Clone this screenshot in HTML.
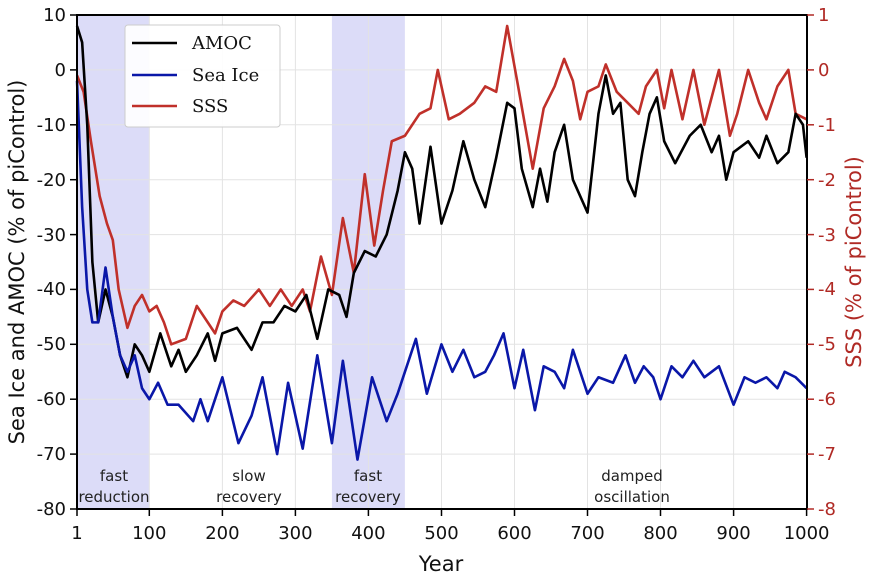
<!DOCTYPE html>
<html><head><meta charset="utf-8"><style>
html,body{margin:0;padding:0;background:#fff;}
svg{display:block;font-family:"DejaVu Sans","Liberation Sans",sans-serif;}
</style></head><body>
<svg width="871" height="576" viewBox="0 0 871 576" xmlns="http://www.w3.org/2000/svg">
<rect width="871" height="576" fill="#fff"/>
<rect x="77" y="15" width="72.3" height="494" fill="#dcdcf8"/>
<rect x="331.9" y="15" width="73" height="494" fill="#dcdcf8"/>
<g stroke="#e3e3e3" stroke-width="1">
<line x1="149.3" y1="15" x2="149.3" y2="509"/><line x1="222.4" y1="15" x2="222.4" y2="509"/><line x1="295.4" y1="15" x2="295.4" y2="509"/><line x1="368.4" y1="15" x2="368.4" y2="509"/><line x1="441.5" y1="15" x2="441.5" y2="509"/><line x1="514.5" y1="15" x2="514.5" y2="509"/><line x1="587.5" y1="15" x2="587.5" y2="509"/><line x1="660.5" y1="15" x2="660.5" y2="509"/><line x1="733.6" y1="15" x2="733.6" y2="509"/>
<line x1="77" y1="69.9" x2="807" y2="69.9"/><line x1="77" y1="124.8" x2="807" y2="124.8"/><line x1="77" y1="179.7" x2="807" y2="179.7"/><line x1="77" y1="234.6" x2="807" y2="234.6"/><line x1="77" y1="289.4" x2="807" y2="289.4"/><line x1="77" y1="344.3" x2="807" y2="344.3"/><line x1="77" y1="399.2" x2="807" y2="399.2"/><line x1="77" y1="454.1" x2="807" y2="454.1"/>
</g>
<g fill="none" stroke-width="2.6" stroke-linejoin="round">
<polyline transform="matrix(0.7303 0 0 -54.89 76.3 69.89)" vector-effect="non-scaling-stroke" stroke="#c0302a" points="1,-0.1 10,-0.4 20,-1.3 32,-2.3 42,-2.8 50,-3.1 58,-4.0 70,-4.7 80,-4.3 90,-4.1 100,-4.4 110,-4.3 120,-4.6 130,-5.0 150,-4.9 165,-4.3 180,-4.6 190,-4.8 200,-4.4 215,-4.2 230,-4.3 250,-4.0 265,-4.3 280,-4.0 295,-4.3 310,-4.0 320,-4.4 335,-3.4 350,-4.1 365,-2.7 380,-3.7 395,-1.9 408,-3.2 420,-2.2 432,-1.3 450,-1.2 470,-0.8 485,-0.7 495,0.0 510,-0.9 525,-0.8 545,-0.6 560,-0.3 575,-0.4 590,0.8 605,-0.3 625,-1.8 640,-0.7 655,-0.3 668,0.2 680,-0.2 690,-0.9 700,-0.4 715,-0.3 725,0.1 740,-0.4 755,-0.6 770,-0.8 780,-0.3 795,0.0 805,-0.7 815,0.0 830,-0.9 845,0.0 860,-1.0 880,0.0 895,-1.2 905,-0.8 920,0.0 935,-0.6 945,-0.9 960,-0.3 975,0.0 985,-0.8 1000,-0.9"/>
<polyline transform="matrix(0.7303 0 0 -5.489 76.3 69.89)" vector-effect="non-scaling-stroke" stroke="#000" points="1,8 8,5 15,-10 22,-35 30,-46 40,-40 50,-45 60,-52 70,-56 80,-50 90,-52 100,-55 115,-48 130,-54 140,-51 150,-55 165,-52 180,-48 190,-53 200,-48 220,-47 240,-51 255,-46 270,-46 285,-43 300,-44 315,-41 330,-49 345,-40 360,-41 370,-45 380,-37 395,-33 410,-34 425,-30 440,-22 450,-15 460,-18 470,-28 485,-14 500,-28 515,-22 530,-13 545,-20 560,-25 575,-16 590,-6 600,-7 610,-18 625,-25 635,-18 645,-24 655,-15 668,-10 680,-20 700,-26 715,-8 725,-1 735,-8 745,-6 755,-20 765,-23 775,-15 785,-8 795,-5 805,-13 820,-17 840,-12 855,-10 870,-15 880,-12 890,-20 900,-15 920,-13 935,-16 945,-12 960,-17 975,-15 985,-8 995,-10 1000,-16"/>
<polyline transform="matrix(0.7303 0 0 -5.489 76.3 69.89)" vector-effect="non-scaling-stroke" stroke="#0a17a8" points="1,-2 8,-25 15,-40 22,-46 30,-46 40,-36 50,-45 60,-52 70,-55 80,-52 90,-58 100,-60 112,-57 125,-61 140,-61 160,-64 170,-60 180,-64 200,-56 222,-68 240,-63 255,-56 275,-70 290,-57 310,-69 330,-52 350,-68 365,-53 385,-71 405,-56 425,-64 440,-59 455,-53 465,-49 480,-59 500,-50 515,-55 530,-51 545,-56 560,-55 572,-52 585,-48 600,-58 612,-51 628,-62 640,-54 655,-55 668,-58 680,-51 700,-59 715,-56 735,-57 752,-52 765,-57 777,-54 790,-56 800,-60 815,-54 830,-56 845,-53 860,-56 880,-54 900,-61 915,-56 930,-57 945,-56 960,-58 970,-55 985,-56 1000,-58"/>
</g>
<rect x="77" y="15" width="730" height="494" fill="none" stroke="#000" stroke-width="2"/>
<g stroke="#000" stroke-width="1.5">
<line x1="77" y1="509" x2="77" y2="516"/><line x1="149.3" y1="509" x2="149.3" y2="516"/><line x1="222.4" y1="509" x2="222.4" y2="516"/><line x1="295.4" y1="509" x2="295.4" y2="516"/><line x1="368.4" y1="509" x2="368.4" y2="516"/><line x1="441.5" y1="509" x2="441.5" y2="516"/><line x1="514.5" y1="509" x2="514.5" y2="516"/><line x1="587.5" y1="509" x2="587.5" y2="516"/><line x1="660.5" y1="509" x2="660.5" y2="516"/><line x1="733.6" y1="509" x2="733.6" y2="516"/><line x1="806.6" y1="509" x2="806.6" y2="516"/>
<line x1="70" y1="15" x2="77" y2="15"/><line x1="70" y1="69.9" x2="77" y2="69.9"/><line x1="70" y1="124.8" x2="77" y2="124.8"/><line x1="70" y1="179.7" x2="77" y2="179.7"/><line x1="70" y1="234.6" x2="77" y2="234.6"/><line x1="70" y1="289.4" x2="77" y2="289.4"/><line x1="70" y1="344.3" x2="77" y2="344.3"/><line x1="70" y1="399.2" x2="77" y2="399.2"/><line x1="70" y1="454.1" x2="77" y2="454.1"/><line x1="70" y1="509" x2="77" y2="509"/>
</g>
<g stroke="#b02a25" stroke-width="1.5">
<line x1="807" y1="15" x2="814" y2="15"/><line x1="807" y1="69.9" x2="814" y2="69.9"/><line x1="807" y1="124.8" x2="814" y2="124.8"/><line x1="807" y1="179.7" x2="814" y2="179.7"/><line x1="807" y1="234.6" x2="814" y2="234.6"/><line x1="807" y1="289.4" x2="814" y2="289.4"/><line x1="807" y1="344.3" x2="814" y2="344.3"/><line x1="807" y1="399.2" x2="814" y2="399.2"/><line x1="807" y1="454.1" x2="814" y2="454.1"/><line x1="807" y1="509" x2="814" y2="509"/>
</g>
<g font-size="18" fill="#111" text-anchor="middle">
<text x="77" y="539">1</text><text x="149.3" y="539">100</text><text x="222.4" y="539">200</text><text x="295.4" y="539">300</text><text x="368.4" y="539">400</text><text x="441.5" y="539">500</text><text x="514.5" y="539">600</text><text x="587.5" y="539">700</text><text x="660.5" y="539">800</text><text x="733.6" y="539">900</text><text x="806.6" y="539">1000</text>
</g>
<g font-size="18" fill="#111" text-anchor="end">
<text x="66" y="21">10</text><text x="66" y="76">0</text><text x="66" y="131">-10</text><text x="66" y="186">-20</text><text x="66" y="241">-30</text><text x="66" y="295">-40</text><text x="66" y="350">-50</text><text x="66" y="405">-60</text><text x="66" y="460">-70</text><text x="66" y="515">-80</text>
</g>
<g font-size="18" fill="#b02a25" text-anchor="start">
<text x="818" y="21">1</text><text x="818" y="76">0</text><text x="818" y="131">-1</text><text x="818" y="186">-2</text><text x="818" y="241">-3</text><text x="818" y="295">-4</text><text x="818" y="350">-5</text><text x="818" y="405">-6</text><text x="818" y="460">-7</text><text x="818" y="515">-8</text>
</g>
<g font-size="15" fill="#222" text-anchor="middle">
<text x="114" y="481">fast</text><text x="114" y="502">reduction</text>
<text x="249" y="481">slow</text><text x="249" y="502">recovery</text>
<text x="368" y="481">fast</text><text x="368" y="502">recovery</text>
<text x="632" y="481">damped</text><text x="632" y="502">oscillation</text>
</g>
<text x="441" y="571" font-size="21" text-anchor="middle" fill="#111">Year</text>
<text transform="translate(24,262) rotate(-90)" font-size="21" text-anchor="middle" fill="#111">Sea Ice and AMOC (% of piControl)</text>
<text transform="translate(861,262) rotate(-90)" font-size="21" text-anchor="middle" fill="#b02a25">SSS (% of piControl)</text>
<rect x="125" y="25" width="155" height="102" rx="3" fill="#fff" fill-opacity="0.9" stroke="#ccc"/>
<line x1="132" y1="43" x2="177" y2="43" stroke="#000" stroke-width="2.6"/>
<line x1="132" y1="75" x2="177" y2="75" stroke="#0a17a8" stroke-width="2.6"/>
<line x1="132" y1="106" x2="177" y2="106" stroke="#c0302a" stroke-width="2.6"/>
<g font-family="'DejaVu Serif','Liberation Serif',serif" font-size="18" fill="#111">
<text x="192" y="49">AMOC</text><text x="192" y="81">Sea Ice</text><text x="192" y="112">SSS</text>
</g>
</svg>
</body></html>
